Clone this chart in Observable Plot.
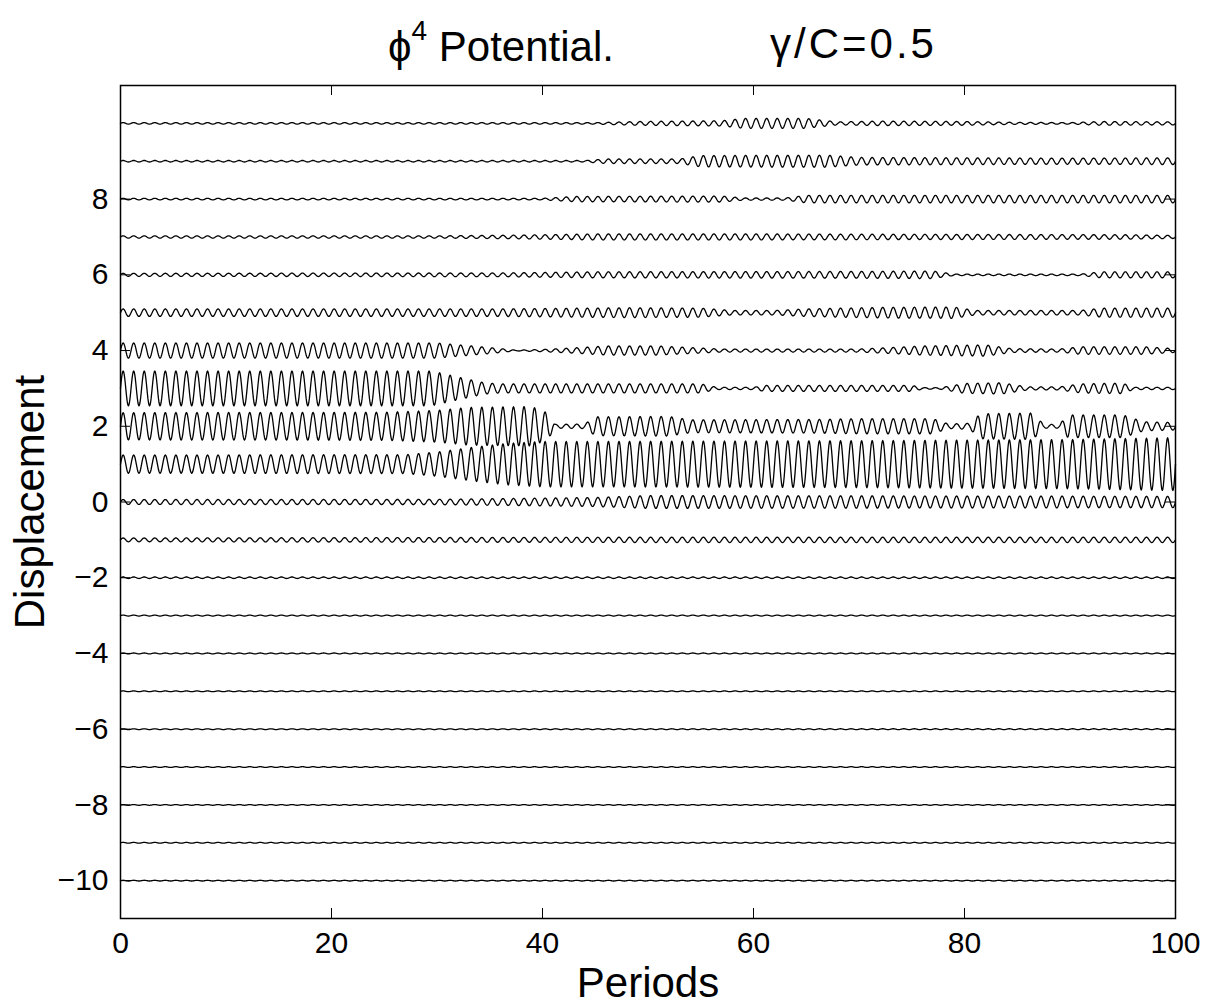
<!DOCTYPE html>
<html>
<head>
<meta charset="utf-8">
<script src="https://cdn.jsdelivr.net/npm/d3@7"></script>
<script src="https://cdn.jsdelivr.net/npm/@observablehq/plot@0.6"></script>
<style>
  html, body { margin: 0; padding: 0; background: white; }
  #wrap { position: relative; width: 1208px; height: 1004px; font-family: "Liberation Sans", Arial, Helvetica, sans-serif; }
  #title { position: relative; height: 70px; width: 1208px; font-size: 42px; color: black; }
  #title span { position: absolute; top: 23px; line-height: 1; white-space: nowrap; }
  #title sup { font-size: 28px; position: relative; top: -6px; }
  g[aria-label="x-axis label"] text, g[aria-label="y-axis label"] text { font-size: 42px; }
</style>
</head>
<body>
<div id="wrap">
  <div id="title"><span id="t1" style="left:388px">ϕ<sup>4</sup> Potential.</span><span id="t2" style="left:770px; letter-spacing:3px">γ/C=0.5</span></div>
  <div id="chart"></div>
</div>
<script>
// Axis ticks
const xTicks = [0, 20, 40, 60, 80, 100];
const yTicks = [-10, -8, -6, -4, -2, 0, 2, 4, 6, 8];

// Site offsets (one trace per lattice site)
const offsets = [10, 9, 8, 7, 6, 5, 4, 3, 2, 1, 0, -1, -2, -3, -4, -5, -6, -7, -8, -9, -10];

// Oscillation envelopes: [period, amplitude]
const env10 = [[0,.02],[45,.02],[49,.05],[57,.07],[59,.13],[65,.13],[68,.04],[72,.06],[80,.05],[84,.03],[90,.02],[93,.05],[100,.04]];
const env9  = [[0,.02],[44,.02],[46,.06],[53,.06],[55,.15],[67,.16],[70,.1],[80,.09],[90,.08],[100,.09]];
const env8  = [[0,.02],[40,.02],[43,.07],[57,.08],[59,.03],[63,.03],[65,.1],[100,.1]];
const env7  = [[0,.03],[30,.03],[38,.05],[45,.08],[60,.08],[75,.07],[95,.06],[100,.04]];
const env6  = [[0,.04],[36,.05],[45,.08],[70,.09],[77,.1],[79,.02],[91,.02],[93,.08],[100,.08]];
const env5  = [[0,.1],[36,.1],[48,.13],[55,.12],[58,.06],[62,.06],[65,.1],[72,.14],[79,.15],[81,.06],[91,.06],[93,.12],[100,.12]];
const env4  = [[0,.2],[30,.2],[35,.08],[37.5,.01],[40,.03],[43,.07],[46,.12],[51,.12],[57,.04],[70,.04],[76,.12],[82,.15],[84.5,.05],[89,.04],[91,.1],[97,.1],[100,.05]];
const env3  = [[0,.46],[29.5,.46],[32.5,.27],[34.5,.15],[36,.12],[55,.12],[56.5,.03],[60,.03],[61,.08],[75,.08],[76,.02],[77.7,.02],[80,.13],[83.5,.15],[86,.04],[89,.04],[91,.12],[95,.14],[96,.03],[100,.03]];
const env2  = [[0,.36],[25,.37],[30,.42],[33,.5],[39,.52],[40.5,.35],[41.2,.05],[44,.06],[45,.25],[52,.26],[54,.17],[66,.18],[70,.2],[77,.2],[78.5,.06],[80.5,.08],[81.5,.33],[86.5,.35],[87.5,.05],[89,.05],[89.8,.3],[95,.3],[97,.12],[100,.1]];
const env1  = [[0,.24],[27,.25],[30,.32],[33.5,.45],[36.7,.55],[40,.6],[45,.6],[70,.62],[90,.65],[100,.7]];
const env0  = [[0,.065],[30,.07],[45,.12],[50,.17],[100,.15]];
const envM1 = [[0,.05],[50,.07],[100,.07]];
const envM2 = [[0,.02],[100,.02]];
const envM3 = [[0,.012],[100,.012]];
const envM4 = [[0,.012],[100,.012]];
const envM5 = [[0,.01],[100,.01]];
const envM6 = [[0,.01],[100,.012]];
const envM7 = [[0,.01],[100,.01]];
const envM8 = [[0,.01],[100,.01]];
const envM9 = [[0,.01],[100,.01]];
const envM10 = [[0,.01],[100,.01]];

const envelopes = [env10, env9, env8, env7, env6, env5, env4, env3, env2, env1, env0,
                   envM1, envM2, envM3, envM4, envM5, envM6, envM7, envM8, envM9, envM10];

function amp(env, t) {
  for (let i = 1; i < env.length; i++) {
    if (t <= env[i][0]) {
      const [t0, a0] = env[i - 1], [t1, a1] = env[i];
      return a0 + (a1 - a0) * (t - t0) / (t1 - t0);
    }
  }
  return env[env.length - 1][1];
}

const points = [];
offsets.forEach((o, i) => {
  const env = envelopes[i];
  for (let k = 0; k <= 2000; k++) {
    const t = k * 0.05;
    points.push({site: o, t, v: o + amp(env, t) * Math.sin(2 * Math.PI * t)});
  }
});

const W = 1208, H = 934, mt = 15, mb = 86, ml = 120, mr = 33;
const innerH = H - mt - mb, innerW = W - ml - mr, tl = 10;

const chart = Plot.plot({
  width: W, height: H,
  marginTop: mt, marginBottom: mb, marginLeft: ml, marginRight: mr,
  x: {domain: [0, 100]},
  y: {domain: [-11, 11]},
  style: {fontFamily: '"Liberation Sans", Arial, Helvetica, sans-serif', fontSize: "30px", color: "black", background: "white", overflow: "visible"},
  marks: [
    Plot.axisX({ticks: xTicks, tickSize: 0, tickPadding: 13, label: "Periods", labelAnchor: "center", labelArrow: "none", labelOffset: 78}),
    Plot.axisY({ticks: yTicks, tickSize: 0, tickPadding: 12, label: "Displacement", labelAnchor: "center", labelArrow: "none", labelOffset: 106}),
    Plot.tickX(xTicks, {x: d => d, insetTop: innerH - tl, stroke: "black", strokeWidth: 1}),
    Plot.tickX(xTicks, {x: d => d, insetBottom: innerH - tl, stroke: "black", strokeWidth: 1}),
    Plot.tickY(yTicks, {y: d => d, insetRight: innerW - tl, stroke: "black", strokeWidth: 1}),
    Plot.tickY(yTicks, {y: d => d, insetLeft: innerW - tl, stroke: "black", strokeWidth: 1}),
    Plot.line(points, {x: "t", y: "v", z: "site", stroke: "black", strokeWidth: 1.3}),
    Plot.frame({stroke: "black", strokeWidth: 1.5})
  ]
});
document.getElementById("chart").appendChild(chart);
</script>
</body>
</html>
